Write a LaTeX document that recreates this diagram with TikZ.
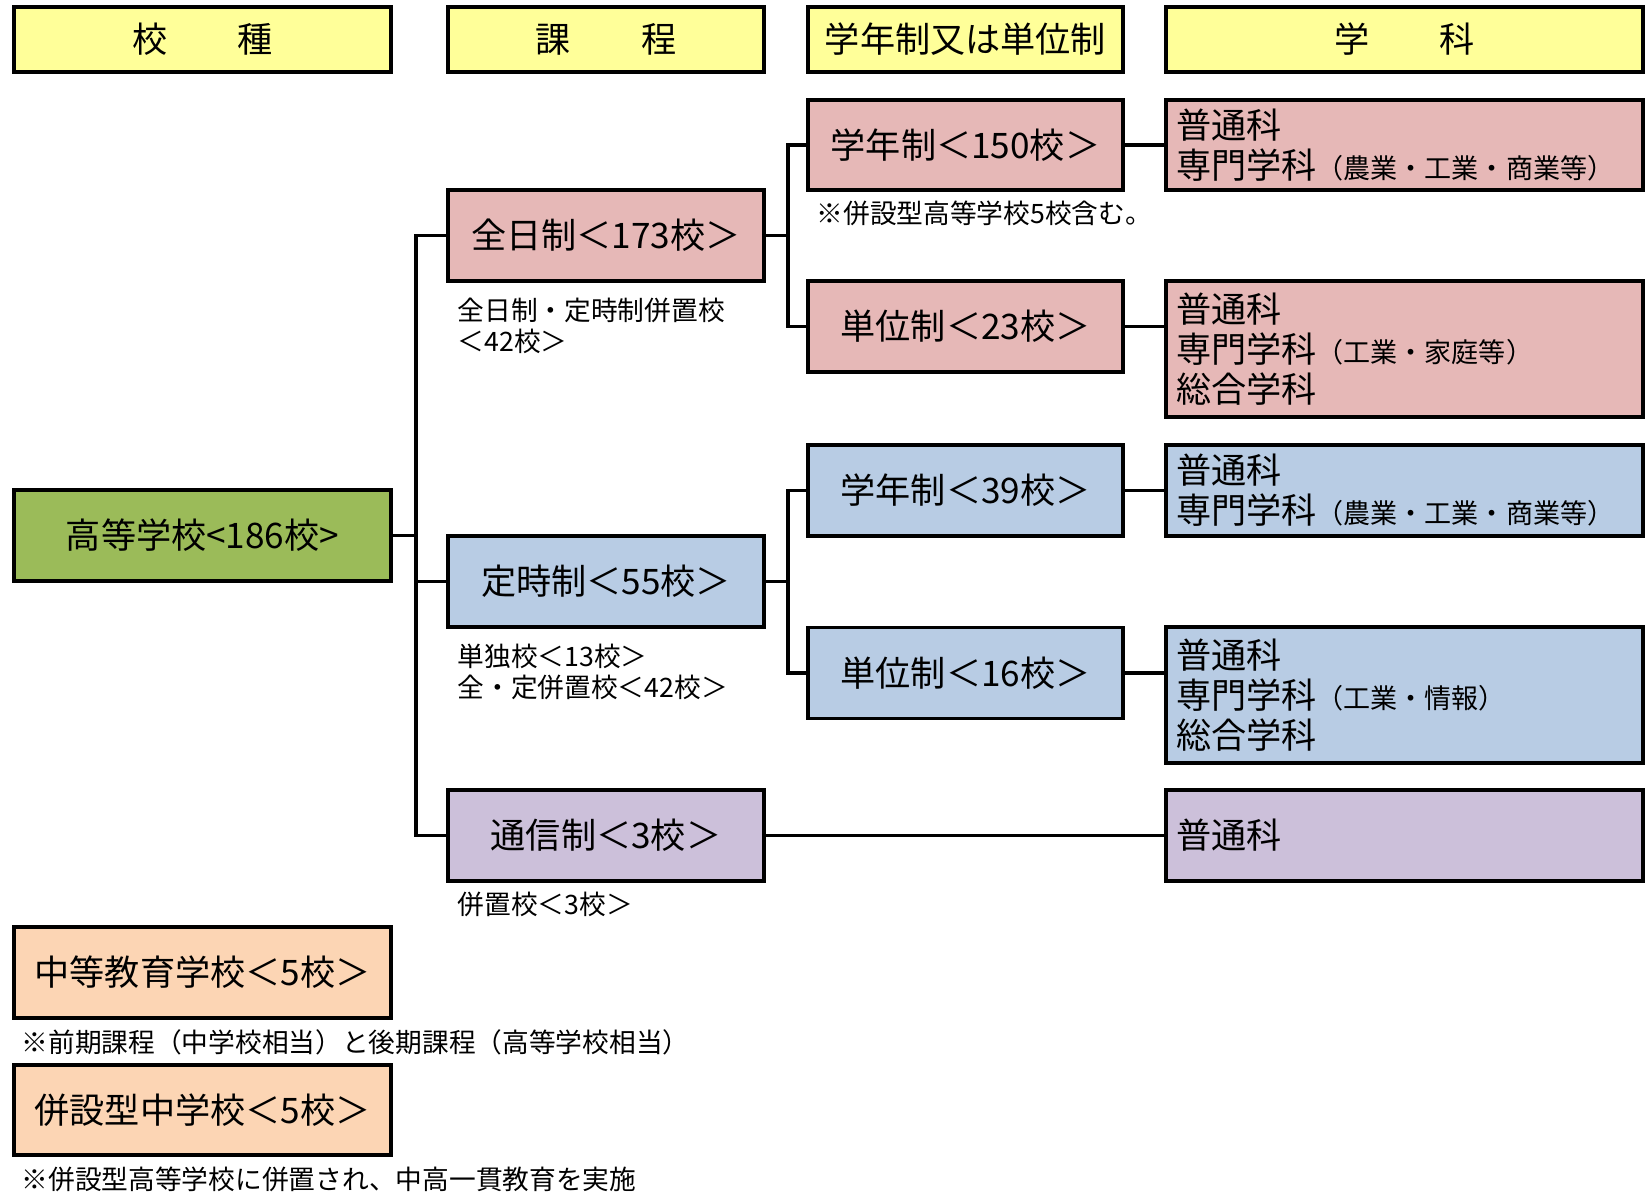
\documentclass[tikz,border=0pt]{standalone}
\usepackage{fontspec}
\setmainfont{Noto Sans CJK JP}
\usepackage{tikz}
\tikzset{font={\fontsize{10pt}{11.3pt}\selectfont}}
\definecolor{headyellow}{HTML}{FFFF99}
\definecolor{pinkbox}{HTML}{E6B8B7}
\definecolor{greenbox}{HTML}{9BBB59}
\definecolor{bluebox}{HTML}{B8CCE4}
\definecolor{purplebox}{HTML}{CCC0DA}
\definecolor{peachbox}{HTML}{FCD5B4}
\newcommand{\sm}[1]{{\fontsize{7.7pt}{9pt}\selectfont #1}}

\begin{document}
\begin{tikzpicture}[
box/.style={draw, line width=1pt, inner sep=0pt, align=center, minimum height=0.91cm},
head/.style={box, fill=headyellow, minimum height=0.65cm},
gakka/.style={box, align=left, inner xsep=0.1cm, text width=4.57cm},
note/.style={anchor=west, align=left, inner sep=0pt, font={\fontsize{7.6pt}{9pt}\selectfont}},
conn/.style={line width=1pt}
]
\useasboundingbox (0,0) rectangle (16.45,-11.95);
\foreach \x/\w/\t/\n in {2.025/3.77/{校\hspace{2em}種}/h1, 6.06/3.16/{課\hspace{2em}程}/h2,
  9.655/3.15/{学年制又は単位制}/h3, 14.045/4.77/{学\hspace{2em}科}/h4}
  \node[head, minimum width=\w cm] (\n) at (\x,-0.395) {\t};

\node[box, fill=greenbox, minimum width=3.77cm] (hs) at (2.025,-5.355) {高等学校<186校>};
\node[box, fill=peachbox, minimum width=3.77cm] (chu) at (2.025,-9.725) {中等教育学校＜5校＞};
\node[box, fill=peachbox, minimum width=3.77cm, minimum height=0.9cm] (heichu) at (2.025,-11.1) {併設型中学校＜5校＞};

\node[box, fill=pinkbox, minimum width=3.16cm] (zen) at (6.06,-2.355) {全日制＜173校＞};
\node[box, fill=bluebox, minimum width=3.16cm] (tei) at (6.06,-5.815) {定時制＜55校＞};
\node[box, fill=purplebox, minimum width=3.16cm] (tsu) at (6.06,-8.355) {通信制＜3校＞};

\node[box, fill=pinkbox, minimum width=3.15cm, minimum height=0.9cm] (gak1) at (9.655,-1.45) {学年制＜150校＞};
\node[box, fill=pinkbox, minimum width=3.15cm] (tan1) at (9.655,-3.265) {単位制＜23校＞};
\node[box, fill=bluebox, minimum width=3.15cm] (gak2) at (9.655,-4.905) {学年制＜39校＞};
\node[box, fill=bluebox, minimum width=3.15cm] (tan2) at (9.655,-6.73) {単位制＜16校＞};

\node[gakka, fill=pinkbox, minimum height=0.9cm] (ka1) at (14.045,-1.45) {普通科\\専門学科\sm{（農業・工業・商業等）}};
\node[gakka, fill=pinkbox, minimum height=1.36cm] (ka2) at (14.045,-3.49) {普通科\\専門学科\sm{（工業・家庭等）}\\総合学科};
\node[gakka, fill=bluebox] (ka3) at (14.045,-4.905) {普通科\\専門学科\sm{（農業・工業・商業等）}};
\node[gakka, fill=bluebox, minimum height=1.36cm] (ka4) at (14.045,-6.95) {普通科\\専門学科\sm{（工業・情報）}\\総合学科};
\node[gakka, fill=purplebox] (ka5) at (14.045,-8.355) {普通科};

\node[note] (n1) at (8.16,-2.13) {※併設型高等学校5校含む。};
\node[note] (n2) at (4.57,-3.26) {全日制・定時制併置校\\＜42校＞};
\node[note] (n3) at (4.57,-6.72) {単独校＜13校＞\\全・定併置校＜42校＞};
\node[note] (n4) at (4.57,-9.04) {併置校＜3校＞};
\node[note] (n5) at (0.21,-10.42) {※前期課程（中学校相当）と後期課程（高等学校相当）};
\node[note] (n6) at (0.21,-11.79) {※併設型高等学校に併置され、中高一貫教育を実施};

\coordinate (j1) at ([xshift=0.23cm]hs.east);
\coordinate (j2) at ([xshift=0.22cm]zen.east);
\coordinate (j3) at ([xshift=0.22cm]tei.east);
\draw[conn] (hs.east) -- (j1);
\draw[conn] (zen.west) -| (j1) |- (tei.west);
\draw[conn] (j1) |- (tsu.west);
\draw[conn] (zen.east) -- (j2);
\draw[conn] (gak1.west) -| (j2) |- (tan1.west);
\draw[conn] (tei.east) -- (j3);
\draw[conn] (gak2.west) -| (j3) |- (tan2.west);
\draw[conn] (gak1) -- (ka1);
\draw[conn] (tan1.east) -- (tan1.east -| ka2.west);
\draw[conn] (gak2) -- (ka3);
\draw[conn] (tan2.east) -- (tan2.east -| ka4.west);
\draw[conn] (tsu) -- (ka5);
\end{tikzpicture}
\end{document}
